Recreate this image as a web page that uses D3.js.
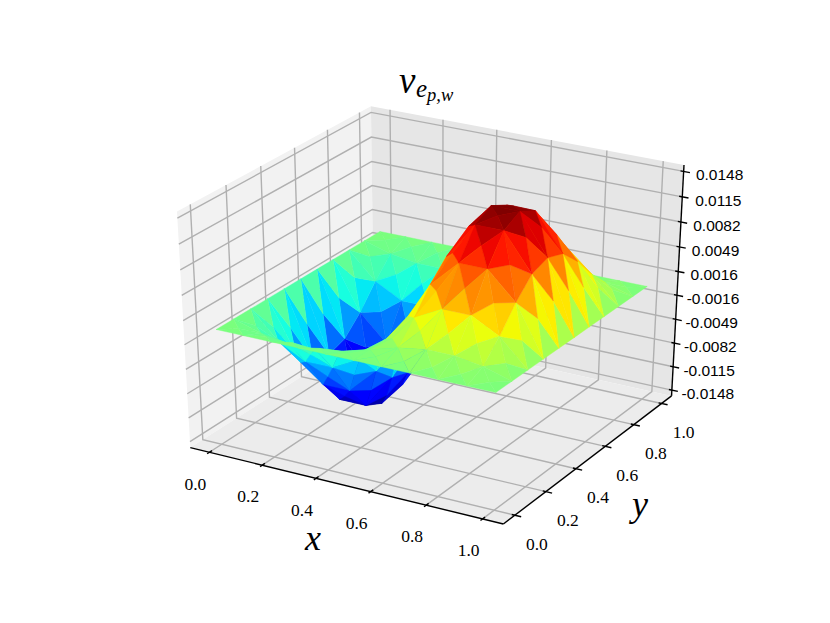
<!DOCTYPE html>
<html>
<head>
<meta charset="utf-8">
<script src="https://cdn.jsdelivr.net/npm/d3@7"></script>
<style>
  html, body { margin: 0; padding: 0; background: #fff; }
  svg { display: block; }
</style>
</head>
<body>
<svg id="chart" width="830" height="623"></svg>
<script>
const xTicks = [0, 0.2, 0.4, 0.6, 0.8, 1];
const yTicks = [0, 0.2, 0.4, 0.6, 0.8, 1];
const zTicks = [-0.0148, -0.0115, -0.0082, -0.0049, -0.0016, 0.0016, 0.0049, 0.0082, 0.0115, 0.0148];
const zTickLabels = ["-0.0148", "-0.0115", "-0.0082", "-0.0049", "-0.0016", "0.0016", "0.0049", "0.0082", "0.0115", "0.0148"];

const xNodes = [0, 0.1, 0.2, 0.3, 0.4, 0.5, 0.6, 0.7, 0.8, 0.9, 1];
const yNodes = [0, 0.1, 0.2, 0.3, 0.4, 0.5, 0.6, 0.7, 0.8, 0.9, 1];
// corner nodes, one row per y node
const zNodes = [
  [0, 0, 0, 0, 0, 0, 0, 0, 0, 0, 0],
  [0, -0.00106, -0.00163, -0.00163, -0.00106, 0, 0.00106, 0.00163, 0.00163, 0.00106, 0],
  [0, -0.00356, -0.00548, -0.00548, -0.00356, 0, 0.00356, 0.00548, 0.00548, 0.00356, 0],
  [0, -0.00654, -0.01006, -0.01006, -0.00654, 0, 0.00654, 0.01006, 0.01006, 0.00654, 0],
  [0, -0.00885, -0.01362, -0.01362, -0.00885, 0, 0.00885, 0.01362, 0.01362, 0.00885, 0],
  [0, -0.00962, -0.0148, -0.0148, -0.00962, 0, 0.00962, 0.0148, 0.0148, 0.00962, 0],
  [0, -0.00885, -0.01362, -0.01362, -0.00885, 0, 0.00885, 0.01362, 0.01362, 0.00885, 0],
  [0, -0.00654, -0.01006, -0.01006, -0.00654, 0, 0.00654, 0.01006, 0.01006, 0.00654, 0],
  [0, -0.00356, -0.00548, -0.00548, -0.00356, 0, 0.00356, 0.00548, 0.00548, 0.00356, 0],
  [0, -0.00106, -0.00163, -0.00163, -0.00106, 0, 0.00106, 0.00163, 0.00163, 0.00106, 0],
  [0, 0, 0, 0, 0, 0, 0, 0, 0, 0, 0],
];
// cell centre nodes, one row per cell
const zCentres = [
  [-0.00016, -0.00038, -0.00044, -0.00038, -0.00016, 0.00016, 0.00038, 0.00044, 0.00038, 0.00016],
  [-0.00119, -0.00293, -0.0034, -0.00293, -0.00119, 0.00119, 0.00293, 0.0034, 0.00293, 0.00119],
  [-0.00275, -0.00675, -0.00784, -0.00675, -0.00275, 0.00275, 0.00675, 0.00784, 0.00675, 0.00275],
  [-0.0042, -0.01031, -0.01199, -0.01031, -0.0042, 0.0042, 0.01031, 0.01199, 0.01031, 0.0042],
  [-0.00508, -0.01248, -0.0145, -0.01248, -0.00508, 0.00508, 0.01248, 0.0145, 0.01248, 0.00508],
  [-0.00508, -0.01248, -0.0145, -0.01248, -0.00508, 0.00508, 0.01248, 0.0145, 0.01248, 0.00508],
  [-0.0042, -0.01031, -0.01199, -0.01031, -0.0042, 0.0042, 0.01031, 0.01199, 0.01031, 0.0042],
  [-0.00275, -0.00675, -0.00784, -0.00675, -0.00275, 0.00275, 0.00675, 0.00784, 0.00675, 0.00275],
  [-0.00119, -0.00293, -0.0034, -0.00293, -0.00119, 0.00119, 0.00293, 0.0034, 0.00293, 0.00119],
  [-0.00016, -0.00038, -0.00044, -0.00038, -0.00016, 0.00016, 0.00038, 0.00044, 0.00038, 0.00016],
];

const svg = d3.select("#chart");

// data limits to the unit cube
const wx = d3.scaleLinear().domain([-0.05, 1.05]).range([0, 1]);
const wy = d3.scaleLinear().domain([-0.05, 1.05]).range([0, 1]);
const wz = d3.scaleLinear().domain([-0.015, 0.015]).range([0, 1]);
const lo = -1 / 48, hi = 1 + 1 / 48;

// same camera as mplot3d: elev 30, azim -60, dist 10
const el = 30 * Math.PI / 180, az = -60 * Math.PI / 180, dist = 10;
const n = [Math.cos(el) * Math.cos(az), Math.cos(el) * Math.sin(az), Math.sin(el)];
const u = [-Math.sin(az), Math.cos(az), 0];
const v = [n[1] * u[2] - n[2] * u[1], n[2] * u[0] - n[0] * u[2], n[0] * u[1] - n[1] * u[0]];
const dot = (a, b) => a[0] * b[0] + a[1] * b[1] + a[2] * b[2];

function camera(p) {
  const d = [p[0] - 0.5, p[1] - 0.5, p[2] - 0.5];
  const w = dist - dot(d, n);
  return { X: dot(d, u) / w, Y: dot(d, v) / w, depth: dot(d, n) };
}

const sx = d3.scaleLinear()
  .domain([camera([lo, lo, hi]).X, camera([hi, hi, hi]).X])
  .range([177, 684]);
const sy = d3.scaleLinear()
  .domain([camera([hi, lo, lo]).Y, camera([hi, hi, hi]).Y])
  .range([524, 165]);

function project(p) {
  const c = camera(p);
  return [sx(c.X), sy(c.Y)];
}

const line = d3.line();

// jet colormap
const jetR = d3.scaleLinear().domain([0, 0.35, 0.66, 0.89, 1]).range([0, 0, 1, 1, 0.5]);
const jetG = d3.scaleLinear().domain([0, 0.125, 0.375, 0.64, 0.91, 1]).range([0, 0, 1, 1, 0, 0]);
const jetB = d3.scaleLinear().domain([0, 0.11, 0.34, 0.65, 1]).range([0.5, 1, 1, 0, 0]);
const jet = (t) => d3.rgb(jetR(t) * 255, jetG(t) * 255, jetB(t) * 255).formatRgb();

function drawPanes() {
  const panes = [
    { fill: "#f2f2f2", pts: [[lo, lo, lo], [lo, hi, lo], [lo, hi, hi], [lo, lo, hi]] },
    { fill: "#e6e6e6", pts: [[lo, hi, lo], [hi, hi, lo], [hi, hi, hi], [lo, hi, hi]] },
    { fill: "#ececec", pts: [[lo, lo, lo], [hi, lo, lo], [hi, hi, lo], [lo, hi, lo]] },
  ];
  svg.append("g").selectAll("path")
    .data(panes)
    .enter()
    .append("path")
    .attr("d", (d) => line(d.pts.map(project)) + "Z")
    .attr("fill", (d) => d.fill);
}

function drawGrid() {
  const g = svg.append("g")
    .attr("fill", "none")
    .attr("stroke", "#b0b0b0")
    .attr("stroke-width", 1.4);
  const add = (ticks, toPts) => {
    g.append("g").selectAll("path")
      .data(ticks)
      .enter()
      .append("path")
      .attr("d", (t) => line(toPts(t).map(project)));
  };
  add(xTicks, (t) => [[wx(t), lo, lo], [wx(t), hi, lo], [wx(t), hi, hi]]);
  add(yTicks, (t) => [[hi, wy(t), lo], [lo, wy(t), lo], [lo, wy(t), hi]]);
  add(zTicks, (t) => [[lo, lo, wz(t)], [lo, hi, wz(t)], [hi, hi, wz(t)]]);
}

function drawSurface() {
  const tris = [];
  const node = (i, j) => ({ x: xNodes[i], y: yNodes[j], z: zNodes[j][i] });
  for (let j = 0; j < yNodes.length - 1; j++) {
    for (let i = 0; i < xNodes.length - 1; i++) {
      const a = node(i, j), b = node(i + 1, j), c = node(i + 1, j + 1), d = node(i, j + 1);
      const m = { x: (a.x + b.x) / 2, y: (a.y + d.y) / 2, z: zCentres[j][i] };
      tris.push([a, b, m], [b, c, m], [c, d, m], [d, a, m]);
    }
  }
  const world = (p) => [wx(p.x), wy(p.y), wz(p.z)];
  tris.forEach((t) => {
    t.zMean = d3.mean(t, (p) => p.z);
    t.depth = d3.mean(t, (p) => camera(world(p)).depth);
  });
  tris.sort((a, b) => d3.ascending(a.depth, b.depth));
  const color = d3.scaleLinear().domain(d3.extent(tris, (t) => t.zMean)).range([0, 1]);
  svg.append("g").selectAll("path")
    .data(tris)
    .enter()
    .append("path")
    .attr("d", (t) => line(t.map((p) => project(world(p)))) + "Z")
    .attr("fill", (t) => jet(color(t.zMean)))
    .attr("stroke", (t) => jet(color(t.zMean)))
    .attr("stroke-width", 0.4);
}

function drawAxes() {
  const g = svg.append("g").attr("stroke", "#000").attr("fill", "none");
  const axisLines = [
    [[lo, lo, lo], [hi, lo, lo]],
    [[hi, lo, lo], [hi, hi, lo]],
    [[hi, hi, lo], [hi, hi, hi]],
  ];
  g.selectAll("path.axis")
    .data(axisLines)
    .enter()
    .append("path")
    .attr("class", "axis")
    .attr("stroke-width", 1.4)
    .attr("d", (d) => line(d.map(project)));

  const addTicks = (ticks, toPts) => {
    g.append("g").selectAll("path")
      .data(ticks)
      .enter()
      .append("path")
      .attr("stroke-width", 1.4)
      .attr("d", (t) => line(toPts(t).map(project)));
  };
  addTicks(xTicks, (t) => [[wx(t), lo - 0.012, lo], [wx(t), lo + 0.014, lo]]);
  addTicks(yTicks, (t) => [[hi + 0.02, wy(t), lo], [hi - 0.01, wy(t), lo]]);
  addTicks(zTicks, (t) => [[hi + 0.02, hi, wz(t)], [hi - 0.01, hi, wz(t)]]);

  const texts = svg.append("g").attr("fill", "#000").attr("text-anchor", "middle");
  texts.append("g").attr("font-family", "Liberation Serif").attr("font-size", 17.5)
    .selectAll("text")
    .data(xTicks)
    .enter()
    .append("text")
    .attr("x", (t) => project([wx(t), lo, lo])[0] - 14)
    .attr("y", (t) => project([wx(t), lo, lo])[1] + 31.5)
    .attr("dy", "0.33em")
    .text((t) => t.toFixed(1));
  texts.append("g").attr("font-family", "Liberation Serif").attr("font-size", 17.5)
    .selectAll("text")
    .data(yTicks)
    .enter()
    .append("text")
    .attr("x", (t) => project([hi, wy(t), lo])[0] + 22)
    .attr("y", (t) => project([hi, wy(t), lo])[1] + 28.5)
    .attr("dy", "0.33em")
    .text((t) => t.toFixed(1));
  texts.append("g").attr("font-family", "Liberation Sans").attr("font-size", 15.5)
    .selectAll("text")
    .data(zTicks)
    .enter()
    .append("text")
    .attr("x", (t) => project([hi, hi, wz(t)])[0] + 36)
    .attr("y", (t) => project([hi, hi, wz(t)])[1] + 3.5)
    .attr("dy", "0.35em")
    .text((t, i) => zTickLabels[i]);
}

function drawLabels() {
  const labels = [
    { s: "x", x: 313, y: 550, size: 36, anchor: "middle" },
    { s: "y", x: 640, y: 516, size: 36, anchor: "middle" },
    { s: "v", x: 399, y: 93, size: 37, anchor: "start" },
    { s: "e", x: 416, y: 97, size: 25, anchor: "start" },
    { s: "p,w", x: 427, y: 101, size: 18.5, anchor: "start" },
  ];
  svg.append("g").selectAll("text")
    .data(labels)
    .enter()
    .append("text")
    .attr("font-family", "Liberation Serif")
    .attr("font-style", "italic")
    .attr("text-anchor", (d) => d.anchor)
    .attr("font-size", (d) => d.size)
    .attr("x", (d) => d.x)
    .attr("y", (d) => d.y)
    .text((d) => d.s);
}

drawPanes();
drawGrid();
drawSurface();
drawAxes();
drawLabels();
</script>
</body>
</html>
